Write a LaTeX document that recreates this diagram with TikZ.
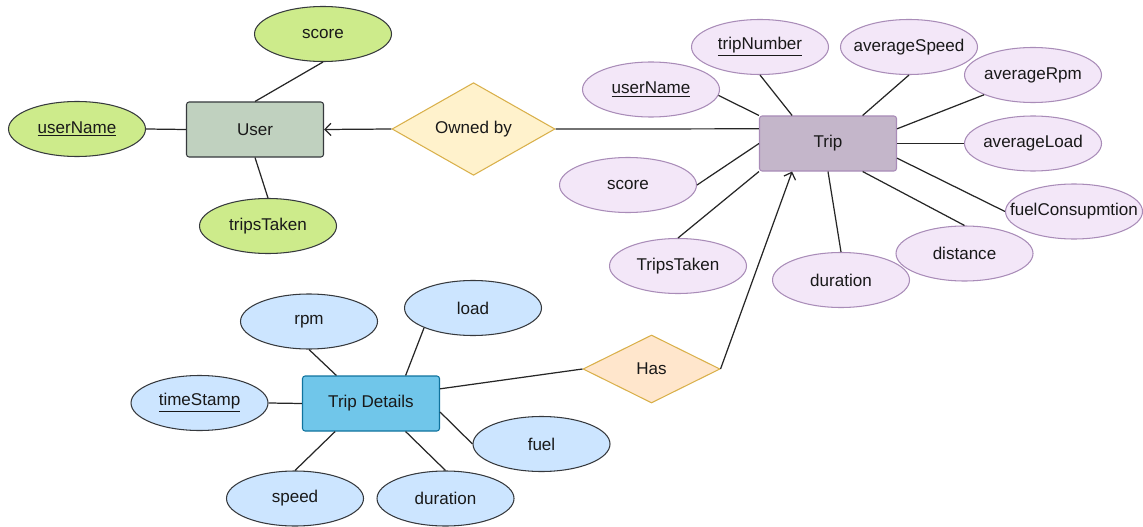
\documentclass[tikz,border=0pt]{standalone}
\usepackage{fontspec}
\setmainfont{Liberation Sans}
\usepackage{xcolor}
\usepackage{tikz}
\usetikzlibrary{shapes.geometric,arrows.meta}

\definecolor{userfill}{HTML}{C0D1BF}
\definecolor{userattr}{HTML}{CDEB8B}
\definecolor{tripfill}{HTML}{C4B6CA}
\definecolor{tripattr}{HTML}{F3E7F8}
\definecolor{tripline}{HTML}{A98CB8}
\definecolor{detfill}{HTML}{70C6EA}
\definecolor{detline}{HTML}{10739E}
\definecolor{detattr}{HTML}{CCE5FF}
\definecolor{ownfill}{HTML}{FFF2CC}
\definecolor{hasfill}{HTML}{FFE6CC}
\definecolor{relline}{HTML}{D9B04A}
\definecolor{darkline}{HTML}{36393D}

\begin{document}
\begin{tikzpicture}[font=\fontsize{9.7}{11.6}\selectfont,
  entity/.style={rectangle, rounded corners=1.5pt, minimum width=2.74cm,
    minimum height=1.1cm, inner sep=0pt, line width=0.6pt, text=black!90},
  attr/.style={ellipse, minimum width=2.74cm, minimum height=1.1cm,
    inner sep=0pt, inner xsep=-2cm, line width=0.6pt, text=black!90},
  relation/.style={diamond, inner sep=0pt, line width=0.6pt, text=black!90},
  conn/.style={line width=0.7pt, draw=black!85},
  arr/.style={conn, -{Straight Barb[length=3.5pt,width=7pt]}}]
  \useasboundingbox (0,0) rectangle (22.86,-10.54);

  \node[entity, fill=userfill, draw=darkline] (user) at (5.10,-2.59) {User};
  \node[attr, fill=userattr, draw=darkline] (userName) at (1.54,-2.58) {\underline{userName}};
  \node[attr, fill=userattr, draw=darkline] (userScore) at (6.46,-0.68) {score};
  \node[attr, fill=userattr, draw=darkline] (userTrips) at (5.36,-4.52) {tripsTaken};
  \node[relation, fill=ownfill, draw=relline, minimum width=3.26cm, minimum height=1.64cm] (ownedBy) at (9.47,-2.58) {Owned by};

  \node[entity, fill=tripfill, draw=tripline] (trip) at (16.56,-2.87) {Trip};
  \node[attr, fill=tripattr, draw=tripline] (tripNumber) at (15.20,-0.94) {\underline{tripNumber}};
  \node[attr, fill=tripattr, draw=tripline] (tripSpeed) at (18.18,-0.94) {averageSpeed};
  \node[attr, fill=tripattr, draw=tripline] (tripRpm) at (20.66,-1.50) {averageRpm};
  \node[attr, fill=tripattr, draw=tripline] (tripUser) at (13.02,-1.79) {\underline{userName}};
  \node[attr, fill=tripattr, draw=tripline] (tripLoad) at (20.66,-2.87) {averageLoad};
  \node[attr, fill=tripattr, draw=tripline] (tripScore) at (12.56,-3.70) {score};
  \node[attr, fill=tripattr, draw=tripline] (tripFuel) at (21.48,-4.23) {fuelConsupmtion};
  \node[attr, fill=tripattr, draw=tripline] (tripDistance) at (19.29,-5.07) {distance};
  \node[attr, fill=tripattr, draw=tripline] (tripDuration) at (16.82,-5.60) {duration};
  \node[attr, fill=tripattr, draw=tripline] (tripTaken) at (13.56,-5.32) {TripsTaken};

  \node[entity, fill=detfill, draw=detline] (details) at (7.42,-8.07) {Trip Details};
  \node[attr, fill=detattr, draw=darkline] (detRpm) at (6.18,-6.43) {rpm};
  \node[attr, fill=detattr, draw=darkline] (detLoad) at (9.46,-6.16) {load};
  \node[attr, fill=detattr, draw=darkline] (detStamp) at (3.99,-8.06) {\underline{timeStamp}};
  \node[attr, fill=detattr, draw=darkline] (detFuel) at (10.83,-8.88) {fuel};
  \node[attr, fill=detattr, draw=darkline] (detSpeed) at (5.90,-9.97) {speed};
  \node[attr, fill=detattr, draw=darkline] (detDuration) at (8.91,-9.97) {duration};
  \node[relation, fill=hasfill, draw=relline, minimum width=2.74cm, minimum height=1.36cm] (has) at (13.03,-7.38) {Has};

  \draw[conn] (userName.east) -- (user.west);
  \draw[conn] (user.north) -- (userScore.south);
  \draw[conn] (user.south) -- (userTrips.north);
  \draw[arr] (ownedBy.west) -- (user.east);
  \draw[conn] (ownedBy.east) -- (trip.168);

  \draw[conn] (tripUser.-5) -- (trip.north west);
  \draw[conn] (tripNumber.south) -- (trip.142);
  \draw[conn] (tripSpeed.south) -- (trip.39);
  \draw[conn] (tripRpm.202) -- (trip.12);
  \draw[conn] (trip.east) -- (tripLoad.west);
  \draw[conn] (trip.-12) -- (tripFuel.west);
  \draw[conn] (trip.-39) -- (tripDistance.north);
  \draw[conn] (trip.south) -- (tripDuration.north);
  \draw[conn] (trip.south west) -- (tripTaken.north);
  \draw[conn] (trip.west) -- (tripScore.east);

  \draw[conn] (detRpm.south) -- (details.141);
  \draw[conn] (detLoad.202) -- (details.39);
  \draw[conn] (detStamp.east) -- (details.west);
  \draw[conn] (details.-7) -- (detFuel.west);
  \draw[conn] (details.-142) -- (detSpeed.north);
  \draw[conn] (details.-39) -- (detDuration.north);
  \draw[conn] (details.12) -- (has.west);
  \draw[arr] (has.east) -- (trip.-142);
\end{tikzpicture}
\end{document}
